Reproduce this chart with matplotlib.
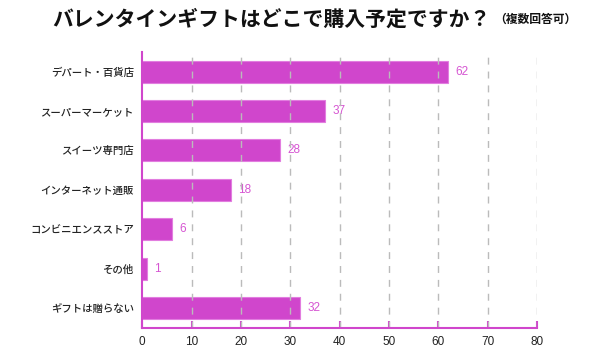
import numpy as np
import matplotlib
matplotlib.use("Agg")
from matplotlib import pyplot as plt

plt.rcParams['font.family'] = ['Noto Sans CJK JP', 'DejaVu Sans']

## Data

categories = ['デパート・百貨店', 'スーパーマーケット', 'スイーツ専門店', 'インターネット通販',
              'コンビニエンスストア', 'その他', 'ギフトは贈らない']
values = [62, 37, 28, 18, 6, 1, 32]
xticks = [0, 10, 20, 30, 40, 50, 60, 70, 80]

bar_color = '#d046cc'
edge_color = '#e27ddf'
label_color = '#d655d2'
num_font = ['Liberation Sans', 'DejaVu Sans']

fig = plt.figure(figsize=(6, 3.6), dpi=100)
ax = fig.add_axes([0.237, 0.089, 0.658, 0.767])

y = np.arange(len(categories))
ax.barh(y, values, height=0.56, color=bar_color, edgecolor=edge_color, linewidth=0.8, zorder=2)

# value labels to the right of each bar
for yi, v in zip(y, values):
	ax.text(v + 1.5, yi, str(v), va='center', ha='left', fontsize=8.5,
		color=label_color, family=num_font)

ax.set_xlim(0, 80)
ax.set_ylim(6.5, -0.5)
ax.set_xticks(xticks)
ax.set_xticklabels([str(t) for t in xticks], fontsize=8.5, color='#222222', family=num_font)
ax.set_yticks(y)
ax.set_yticklabels(categories, fontsize=7.5, color='#222222', fontweight='medium')

# dashed grid drawn above the bars
for t in xticks[1:]:
	ax.axvline(t, color='#bbbbbb', linestyle=(0, (5, 5)), linewidth=1, zorder=3)

for s in ['top', 'right']:
	ax.spines[s].set_visible(False)
for s in ['left', 'bottom']:
	ax.spines[s].set_color(bar_color)
	ax.spines[s].set_linewidth(1.5)
	ax.spines[s].set_zorder(4)

ax.tick_params(axis='y', length=0, pad=6)
ax.tick_params(axis='x', direction='in', length=5, width=1.5, color=bar_color, pad=6)

fig.text(0.087, 0.948, 'バレンタインギフトはどこで購入予定ですか？', fontsize=15, fontweight='bold',
	color='#111111', va='center', ha='left')
fig.text(0.823, 0.945, '（複数回答可）', fontsize=8.5, fontweight='bold',
	color='#111111', va='center', ha='left')

fig.savefig('out.png', dpi=100)
